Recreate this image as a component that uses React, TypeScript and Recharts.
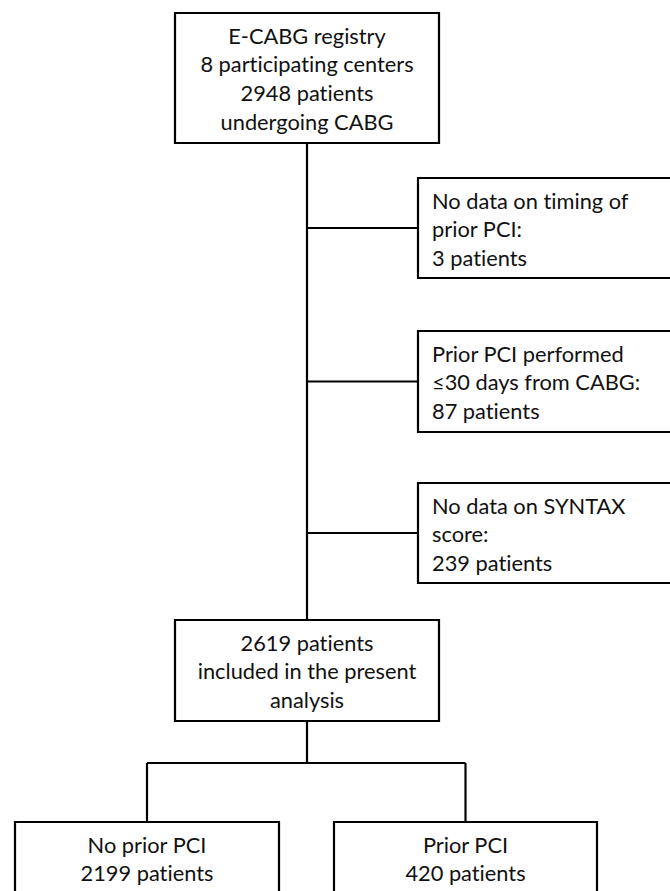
import React from 'react';
import { ComposedChart, XAxis, YAxis, ReferenceArea, ReferenceLine, Label } from 'recharts';

// ---- content (texts and counts) ----
const registryLines = ['E-CABG registry', '8 participating centers', '2948 patients', 'undergoing CABG'];
const exclusionLines = [
  ['No data on timing of', 'prior PCI:', '3 patients'],
  ['Prior PCI performed', '≤30 days from CABG:', '87 patients'],
  ['No data on SYNTAX', 'score:', '239 patients'],
];
const includedLines = ['2619 patients', 'included in the present', 'analysis'];
const groupNames = ['No prior PCI', 'Prior PCI'];
const groupCounts = [2199, 420];

// ---- layout (chart coordinates) ----
const W = 670;
const H = 891;
const topBox = { x1: 175, x2: 439, y1: 13, y2: 143 };
const exclusionBoxes = [
  { x1: 418, x2: 685, y1: 178, y2: 278 },
  { x1: 418, x2: 685, y1: 331, y2: 432 },
  { x1: 418, x2: 685, y1: 483, y2: 583 },
];
const midBox = { x1: 175, x2: 439, y1: 620, y2: 721 };
const groupBoxes = [
  { x1: 15, x2: 279, y1: 822, y2: 900 },
  { x1: 334, x2: 597, y1: 822, y2: 900 },
];
const spineX = 307;
const branchY = 763;

const FONT = 'Lato, "Open Sans", sans-serif';
const FS = 21.8;
const LH = 28.8;

function makeLabel(lines: string[], align: 'center' | 'left') {
  return (props: any) => {
    const vb = props.viewBox || {};
    const x0 = vb.x ?? 0;
    const y0 = vb.y ?? 0;
    const w = vb.width ?? 0;
    const tx = align === 'center' ? x0 + w / 2 : x0 + 14;
    return (
      <g>
        {lines.map((t, i) => (
          <text
            key={i}
            x={tx}
            y={y0 + 22 + i * LH}
            textAnchor={align === 'center' ? 'middle' : 'start'}
            dominantBaseline="central"
            fontFamily={FONT}
            fontSize={FS}
            fill="#111"
            style={{ fontVariantLigatures: 'none' }}
          >
            {t}
          </text>
        ))}
      </g>
    );
  };
}

const boxStyle = { fill: '#fff', fillOpacity: 1, stroke: '#000', strokeWidth: 2.2, strokeOpacity: 1 };

export default function App() {
  const segments: { x1: number; y1: number; x2: number; y2: number }[] = [
    { x1: spineX, y1: topBox.y2, x2: spineX, y2: midBox.y1 },
    ...exclusionBoxes.map((b) => {
      const cy = (b.y1 + b.y2) / 2;
      return { x1: spineX, y1: cy, x2: b.x1, y2: cy };
    }),
    { x1: spineX, y1: midBox.y2, x2: spineX, y2: branchY },
    {
      x1: (groupBoxes[0].x1 + groupBoxes[0].x2) / 2,
      y1: branchY,
      x2: (groupBoxes[1].x1 + groupBoxes[1].x2) / 2,
      y2: branchY,
    },
    ...groupBoxes.map((b) => {
      const cx = (b.x1 + b.x2) / 2;
      return { x1: cx, y1: branchY, x2: cx, y2: b.y1 };
    }),
  ];

  return (
    <div style={{ position: 'absolute', left: 0, top: 0, width: W, height: H, background: '#fff' }}>
      <ComposedChart width={W} height={H} data={[]} margin={{ top: 0, right: 0, bottom: 0, left: 0 }}>
        <XAxis type="number" dataKey="x" domain={[0, W]} allowDataOverflow hide />
        <YAxis type="number" dataKey="y" domain={[0, H]} reversed allowDataOverflow hide />
        {segments.map((s, i) => (
          <ReferenceLine
            key={'l' + i}
            segment={[
              { x: s.x1, y: s.y1 },
              { x: s.x2, y: s.y2 },
            ]}
            stroke="#000"
            strokeWidth={2.2}
            ifOverflow="visible"
          />
        ))}
        <ReferenceArea {...topBox} {...boxStyle} ifOverflow="visible">
          <Label content={makeLabel(registryLines, 'center')} />
        </ReferenceArea>
        {exclusionBoxes.map((b, i) => (
          <ReferenceArea key={'e' + i} {...b} {...boxStyle} ifOverflow="visible">
            <Label content={makeLabel(exclusionLines[i], 'left')} />
          </ReferenceArea>
        ))}
        <ReferenceArea {...midBox} {...boxStyle} ifOverflow="visible">
          <Label content={makeLabel(includedLines, 'center')} />
        </ReferenceArea>
        {groupBoxes.map((b, i) => (
          <ReferenceArea key={'g' + i} {...b} {...boxStyle} ifOverflow="visible">
            <Label content={makeLabel([groupNames[i], `${groupCounts[i]} patients`], 'center')} />
          </ReferenceArea>
        ))}
      </ComposedChart>
    </div>
  );
}
